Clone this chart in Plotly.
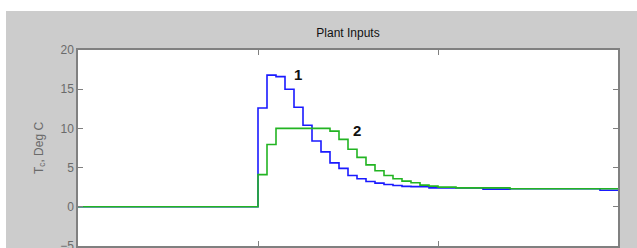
import plotly.graph_objects as go

# Sample times (minutes) and zero-order-hold values
t = [0, 10, 10.5, 11, 11.5, 12, 12.5, 13, 13.5, 14, 14.5, 15, 15.5, 16, 16.5,
     17, 17.5, 18, 18.5, 19, 19.5, 20, 21, 22.5, 24, 29, 30]
tc_1 = [0, 12.6, 16.8, 16.6, 15.0, 12.7, 10.4, 8.4, 7.0, 5.6, 4.9, 4.0, 3.57, 3.23, 3.02,
        2.85, 2.72, 2.6, 2.57, 2.55, 2.42, 2.42, 2.42, 2.25, 2.3, 2.12, 2.12]
tc_2 = [0, 4.1, 7.95, 10.0, 10.0, 10.0, 10.0, 10.0, 10.0, 9.65, 8.6, 7.35, 6.3, 5.35, 4.6,
        4.0, 3.57, 3.28, 3.06, 2.77, 2.64, 2.51, 2.42, 2.42, 2.3, 2.3, 2.3]
series_labels = ["1", "2"]
label_pos = [(12.2, 16.9), (15.5, 9.7)]
y_ticks = [-5, 0, 5, 10, 15, 20]
x_ticks = [0, 10, 20, 30]

W, H = 637, 248
L, R, T, B = 78, 19, 50, 2

fig = go.Figure()
fig.add_trace(go.Scatter(x=t, y=tc_1, mode="lines", line=dict(color="#1a1aff", width=1.6, shape="hv"),
                         showlegend=False, hoverinfo="skip"))
fig.add_trace(go.Scatter(x=t, y=tc_2, mode="lines", line=dict(color="#22b422", width=1.6, shape="hv"),
                         showlegend=False, hoverinfo="skip"))

for lab, (lx, ly) in zip(series_labels, label_pos):
    fig.add_annotation(x=lx, y=ly, text="<b>%s</b>" % lab, showarrow=False,
                       font=dict(family="Liberation Sans, Arial", size=15, color="#111"),
                       xanchor="center", yanchor="middle")

axis_common = dict(showline=True, mirror="ticks", linecolor="#808080", linewidth=1.5,
                   ticks="inside", ticklen=5, tickcolor="#808080", tickwidth=1.2,
                   showgrid=False, zeroline=False, automargin=False)

fig.update_xaxes(range=[0, 30], tickvals=x_ticks, showticklabels=False, **axis_common)
fig.update_yaxes(range=[-5, 20], tickvals=y_ticks, ticklabeloverflow="allow",
                 tickfont=dict(family="Liberation Sans, Arial", size=12, color="#6a6a6a"),
                 title=dict(text="T<sub>c</sub>, Deg C", standoff=14,
                            font=dict(family="Liberation Sans, Arial", size=12, color="#6a6a6a")),
                 **axis_common)

# white outer frame strips (top and left)
fig.add_shape(type="rect", xref="paper", yref="paper",
              x0=-L / (W - L - R), x1=(W - L) / (W - L - R) + 0.01,
              y0=1 + (T - 11) / (H - T - B), y1=1 + T / (H - T - B) + 0.01,
              fillcolor="white", line=dict(width=0), layer="above")
fig.add_shape(type="rect", xref="paper", yref="paper",
              x0=-L / (W - L - R) - 0.01, x1=-(L - 6) / (W - L - R),
              y0=-B / (H - T - B) - 0.01, y1=1 + T / (H - T - B) + 0.01,
              fillcolor="white", line=dict(width=0), layer="above")

fig.update_layout(
    width=W, height=H,
    margin=dict(l=L, r=R, t=T, b=B),
    paper_bgcolor="#cccccc", plot_bgcolor="white",
    title=dict(text="Plant Inputs", x=(L + (W - L - R) / 2) / W, xanchor="center",
               yref="container", y=1 - 33 / H, yanchor="middle",
               font=dict(family="Liberation Sans, Arial", size=12, color="#111")),
)

fig.write_html("out.html", config={"displayModeBar": False},
               post_script="document.body.style.margin='0px';")
